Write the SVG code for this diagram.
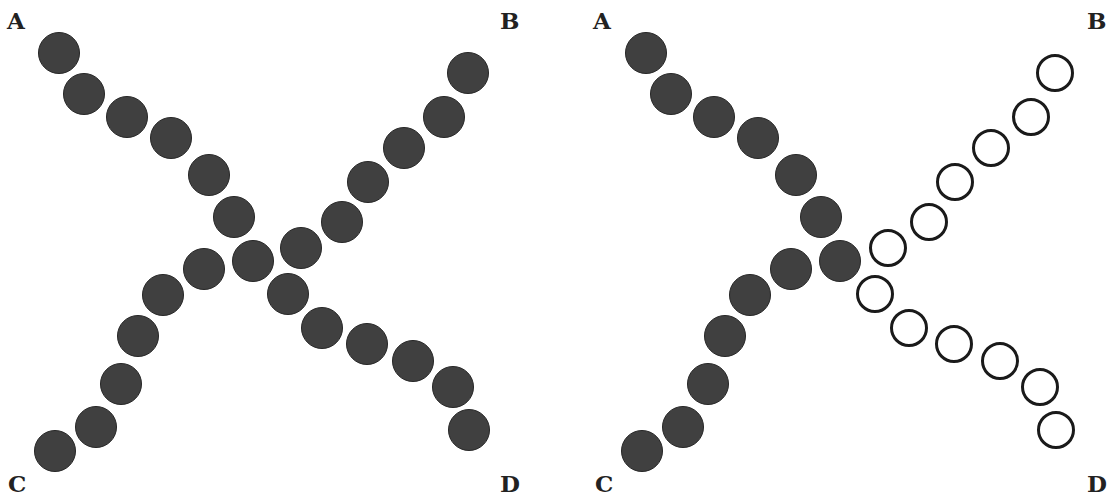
<svg xmlns="http://www.w3.org/2000/svg" width="1114" height="496" viewBox="0 0 1114 496">
<style>
.f{fill:#404040;stroke:#262626;stroke-width:1}
.h{fill:#fff;stroke:#1a1a1a;stroke-width:3}
.lb{font-family:"DejaVu Serif","Liberation Serif",serif;font-weight:bold;font-size:23px;fill:#222}
</style>
<rect width="1114" height="496" fill="#fff"/>
<g id="left">
<g id="L-labels">
<text class="lb" x="7" y="29">A</text>
<text class="lb" x="500" y="29">B</text>
<text class="lb" x="8" y="492">C</text>
<text class="lb" x="500" y="492">D</text>
</g>
<g id="L-AD">
<circle class="f" cx="59" cy="53" r="20.5"/>
<circle class="f" cx="84" cy="94" r="20.5"/>
<circle class="f" cx="127" cy="117" r="20.5"/>
<circle class="f" cx="171" cy="138" r="20.5"/>
<circle class="f" cx="209" cy="175" r="20.5"/>
<circle class="f" cx="234" cy="217" r="20.5"/>
<circle class="f" cx="288" cy="294" r="20.5"/>
<circle class="f" cx="322" cy="328" r="20.5"/>
<circle class="f" cx="367" cy="344" r="20.5"/>
<circle class="f" cx="413" cy="361" r="20.5"/>
<circle class="f" cx="453" cy="387" r="20.5"/>
<circle class="f" cx="469" cy="430" r="20.5"/>
</g>
<g id="L-CB">
<circle class="f" cx="55" cy="451" r="20.5"/>
<circle class="f" cx="96" cy="427" r="20.5"/>
<circle class="f" cx="121" cy="384" r="20.5"/>
<circle class="f" cx="138" cy="336" r="20.5"/>
<circle class="f" cx="163" cy="295" r="20.5"/>
<circle class="f" cx="204" cy="269" r="20.5"/>
<circle class="f" cx="301" cy="248" r="20.5"/>
<circle class="f" cx="342" cy="222" r="20.5"/>
<circle class="f" cx="368" cy="182" r="20.5"/>
<circle class="f" cx="404" cy="148" r="20.5"/>
<circle class="f" cx="444" cy="117" r="20.5"/>
<circle class="f" cx="468" cy="73" r="20.5"/>
</g>
<g id="L-center"><circle class="f" cx="253" cy="261" r="20.5"/></g>
</g>
<g id="right">
<g id="R-labels">
<text class="lb" x="593" y="29">A</text>
<text class="lb" x="1087" y="29">B</text>
<text class="lb" x="595" y="492">C</text>
<text class="lb" x="1087" y="492">D</text>
</g>
<g id="R-A">
<circle class="f" cx="646" cy="53" r="20.5"/>
<circle class="f" cx="671" cy="94" r="20.5"/>
<circle class="f" cx="714" cy="117" r="20.5"/>
<circle class="f" cx="758" cy="138" r="20.5"/>
<circle class="f" cx="796" cy="175" r="20.5"/>
<circle class="f" cx="821" cy="217" r="20.5"/>
</g>
<g id="R-C">
<circle class="f" cx="642" cy="451" r="20.5"/>
<circle class="f" cx="683" cy="427" r="20.5"/>
<circle class="f" cx="708" cy="384" r="20.5"/>
<circle class="f" cx="725" cy="336" r="20.5"/>
<circle class="f" cx="750" cy="295" r="20.5"/>
<circle class="f" cx="791" cy="269" r="20.5"/>
</g>
<g id="R-center"><circle class="f" cx="840" cy="261" r="20.5"/></g>
<g id="R-B">
<circle class="h" cx="888" cy="248" r="17.5"/>
<circle class="h" cx="929" cy="222" r="17.5"/>
<circle class="h" cx="955" cy="182" r="17.5"/>
<circle class="h" cx="991" cy="148" r="17.5"/>
<circle class="h" cx="1031" cy="117" r="17.5"/>
<circle class="h" cx="1055" cy="73" r="17.5"/>
</g>
<g id="R-D">
<circle class="h" cx="875" cy="294" r="17.5"/>
<circle class="h" cx="909" cy="328" r="17.5"/>
<circle class="h" cx="954" cy="344" r="17.5"/>
<circle class="h" cx="1000" cy="361" r="17.5"/>
<circle class="h" cx="1040" cy="387" r="17.5"/>
<circle class="h" cx="1056" cy="430" r="17.5"/>
</g>
</g>
</svg>
